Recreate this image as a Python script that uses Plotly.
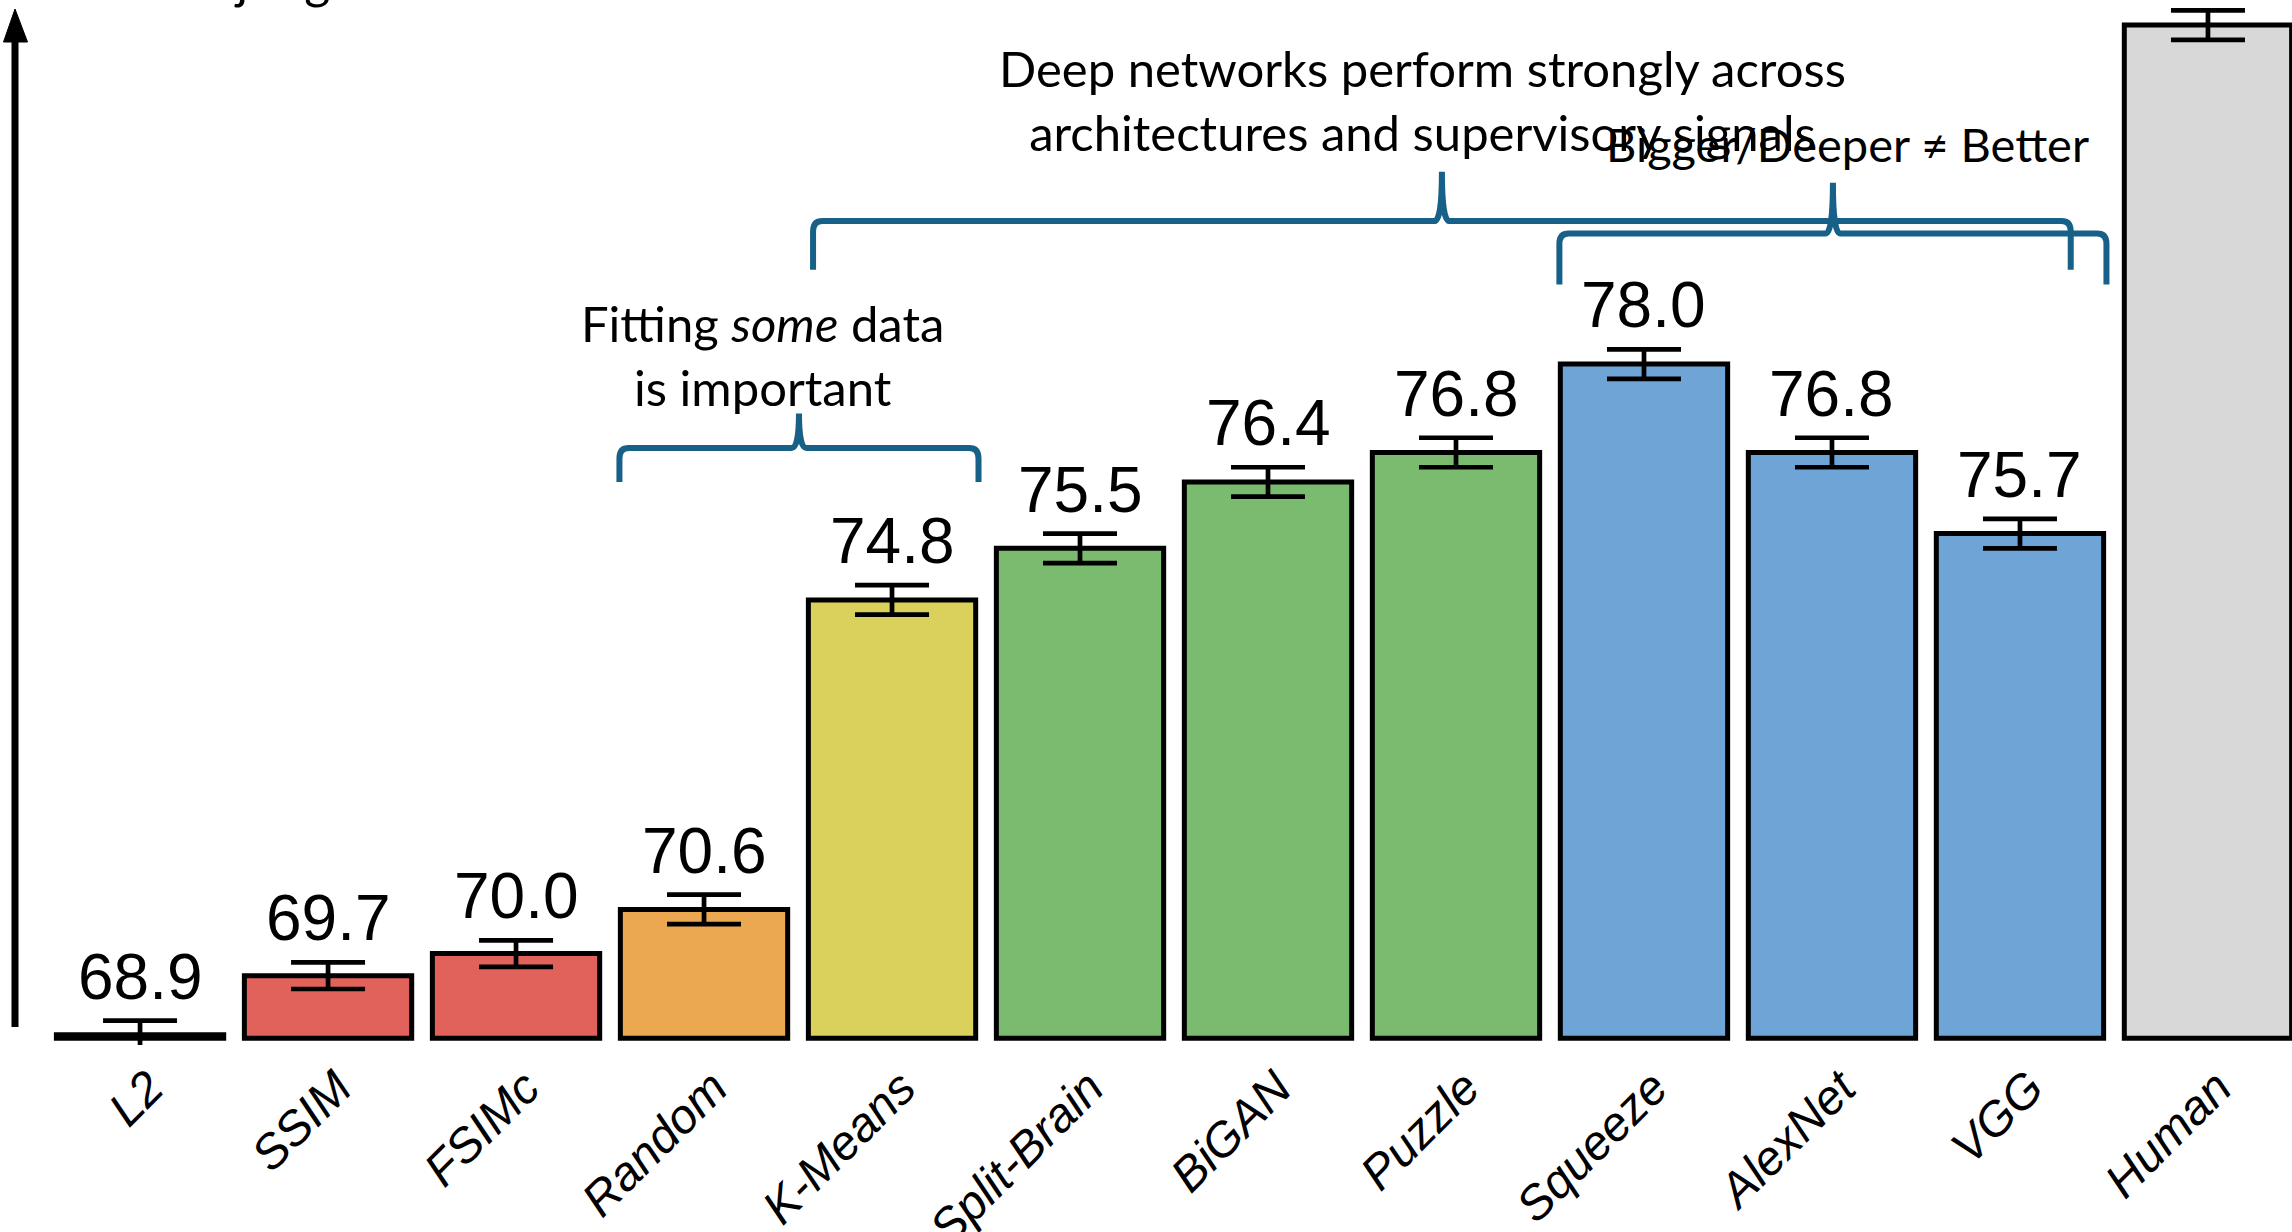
import plotly.graph_objects as go

# ---------------- data ----------------
categories = ["L2", "SSIM", "FSIMc", "Random", "K-Means", "Split-Brain",
              "BiGAN", "Puzzle", "Squeeze", "AlexNet", "VGG", "Human"]
scores = [68.9, 69.7, 70.0, 70.6, 74.8, 75.5, 76.4, 76.8, 78.0, 76.8, 75.7, 82.6]
errors = [0.19, 0.18, 0.18, 0.20, 0.20, 0.20, 0.20, 0.20, 0.20, 0.20, 0.20, 0.20]
value_labels = ["68.9", "69.7", "70.0", "70.6", "74.8", "75.5", "76.4",
                "76.8", "78.0", "76.8", "75.7", ""]
bar_colors = ["#111111", "#e0625a", "#e0625a", "#eca850", "#dad05c", "#7bbb70",
              "#7bbb70", "#7bbb70", "#6fa4d6", "#6fa4d6", "#6fa4d6", "#d8d8d8"]

fit_text = "Fitting <i>some</i> data<br>is important"
deep_text = "Deep networks perform strongly across<br>architectures and supervisory signals"
bigger_text = "Bigger/Deeper \u2260 Better"
axis_title = "Human judgments"

BASE = 68.85
W, H = 2292, 1232
MB = 187
PH = H - MB
Y_RANGE = [68.76, 82.94]
X_RANGE = [-0.745, 11.447]
BRACE_COLOR = "#176087"
TICK_OFFSET = 0.05

idx = list(range(len(categories)))

fig = go.Figure()
fig.add_trace(go.Bar(
    x=idx, y=[s - BASE for s in scores], base=BASE,
    width=0.89,
    marker=dict(color=bar_colors, line=dict(color="black", width=5)),
    hoverinfo="skip", showlegend=False,
))
fig.add_trace(go.Scatter(
    x=idx, y=scores, mode="markers",
    marker=dict(color="rgba(0,0,0,0)", size=1),
    error_y=dict(type="data", array=errors, visible=True,
                 color="black", thickness=4.7, width=37),
    hoverinfo="skip", showlegend=False,
))

annotations = []
for i, (s, e, lab) in enumerate(zip(scores, errors, value_labels)):
    if lab:
        annotations.append(dict(
            x=i, y=s + e, text=lab, showarrow=False, yanchor="bottom",
            xanchor="center", yshift=6,
            font=dict(family="Liberation Sans, Arial, Helvetica, sans-serif",
                      size=64, color="black")))

txt_font = dict(family="Lato, Avenir Next, Open Sans, sans-serif", size=49, color="black")
annotations += [
    dict(x=3.31, y=78.12, text=fit_text, showarrow=False, xanchor="center",
         yanchor="middle", font=txt_font),
    dict(x=6.82, y=81.58, text=deep_text, showarrow=False, xanchor="center",
         yanchor="middle", font=txt_font),
    dict(x=9.08, y=80.98, text=bigger_text, showarrow=False, xanchor="center",
         yanchor="middle", font=dict(txt_font, size=47)),
    dict(xref="paper", yref="paper", x=62 / W, y=1 - 11 / PH, text=axis_title,
         showarrow=False, xanchor="left", yanchor="bottom",
         font=dict(family="Lato, sans-serif", size=50, color="black")),
]


def brace(x0, x1, y_end, y_h, y_peak, rx=0.05, ry=0.14, cx=0.04):
    xm = (x0 + x1) / 2
    return (f"M {x0},{y_end} L {x0},{y_h - ry} Q {x0},{y_h} {x0 + rx},{y_h} "
            f"L {xm - cx},{y_h} Q {xm},{y_h} {xm},{y_peak} "
            f"Q {xm},{y_h} {xm + cx},{y_h} L {x1 - rx},{y_h} "
            f"Q {x1},{y_h} {x1},{y_h - ry} L {x1},{y_end}")


shapes = []
for spec in [(2.55, 4.46, 76.40, 76.86, 77.33),
             (3.58, 10.27, 79.28, 79.94, 80.61),
             (7.55, 10.46, 79.08, 79.77, 80.46)]:
    shapes.append(dict(type="path", path=brace(*spec), xref="x", yref="y",
                       line=dict(color=BRACE_COLOR, width=6), layer="above"))

# vertical axis arrow
ax_x = 15 / W
shapes.append(dict(type="line", xref="paper", yref="paper",
                   x0=ax_x, x1=ax_x, y0=(PH - 1027) / PH, y1=(PH - 40) / PH,
                   line=dict(color="black", width=7)))
shapes.append(dict(type="path", xref="paper", yref="paper",
                   path=f"M {3.5 / W},{(PH - 42) / PH} L {ax_x},{(PH - 9) / PH} "
                        f"L {27.5 / W},{(PH - 42) / PH} Z",
                   fillcolor="black", line=dict(color="black", width=1)))

fig.update_layout(
    width=W, height=H,
    margin=dict(l=0, r=0, t=0, b=MB, autoexpand=False),
    paper_bgcolor="white", plot_bgcolor="white",
    bargap=0.11,
    annotations=annotations, shapes=shapes,
    xaxis=dict(range=X_RANGE, tickmode="array",
               tickvals=[i + TICK_OFFSET for i in idx], ticktext=categories,
               tickangle=-45, showgrid=False, zeroline=False, showline=False,
               ticks="", ticklabelstandoff=4,
               tickfont=dict(family="Liberation Sans, sans-serif",
                             size=48, color="black", style="italic")),
    yaxis=dict(range=Y_RANGE, showgrid=False, zeroline=False, showline=False,
               showticklabels=False, ticks=""),
)

fig.write_html("out.html")
